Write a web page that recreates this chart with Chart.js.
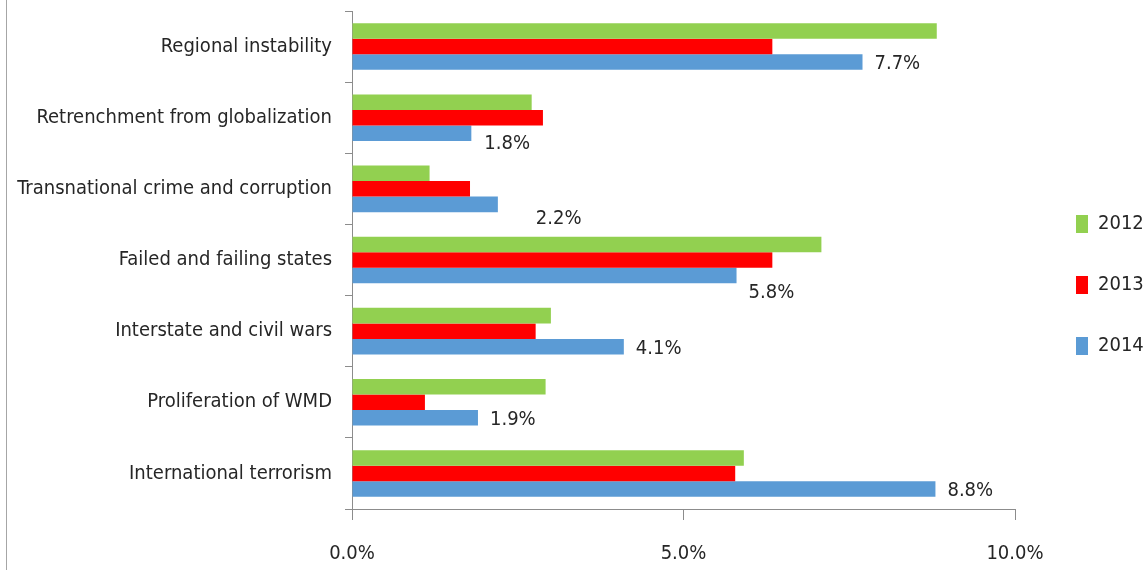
<!DOCTYPE html>
<html>
<head>
<meta charset="utf-8">
<script src="https://cdn.jsdelivr.net/npm/chart.js@4/dist/chart.umd.min.js"></script>
<style>
  body { margin: 0; background: #fff; }
  canvas { display: block; }
</style>
</head>
<body>
<canvas id="riskChart" width="1146" height="570"></canvas>
<script>
const categories = [
  'Regional instability',
  'Retrenchment from globalization',
  'Transnational crime and corruption',
  'Failed and failing states',
  'Interstate and civil wars',
  'Proliferation of WMD',
  'International terrorism'
];
const series2012 = [8.82, 2.71, 1.17, 7.08, 3.00, 2.92, 5.91];
const series2013 = [6.34, 2.88, 1.78, 6.34, 2.77, 1.10, 5.78];
const series2014 = [7.7, 1.8, 2.2, 5.8, 4.1, 1.9, 8.8];
const xTicks = [0, 5, 10];

const FONT = "'Liberation Sans Narrow', 'DejaVu Sans Condensed', sans-serif";
const TEXT = '#262626';
const AXIS = '#8c8c8c';

// 2014 value labels, a few were nudged by hand in the original
const labelNudge = { 1: [13, 11], 2: [38, 14], 3: [12, 17] };

const valueLabels = {
  id: 'valueLabels',
  afterDatasetsDraw(chart) {
    const ctx = chart.ctx;
    const meta = chart.getDatasetMeta(2);
    ctx.save();
    ctx.font = '20px ' + FONT;
    ctx.fillStyle = TEXT;
    ctx.textAlign = 'left';
    ctx.textBaseline = 'middle';
    meta.data.forEach((bar, i) => {
      const n = labelNudge[i] || [12, 2];
      ctx.fillText(series2014[i].toFixed(1) + '%', bar.x + n[0], bar.y + n[1]);
    });
    ctx.restore();
  }
};

const pageEdge = {
  id: 'pageEdge',
  beforeDraw(chart) {
    const ctx = chart.ctx;
    ctx.save();
    ctx.strokeStyle = '#a6a6a6';
    ctx.lineWidth = 1;
    ctx.beginPath();
    ctx.moveTo(6.5, 0);
    ctx.lineTo(6.5, chart.height);
    ctx.stroke();
    ctx.restore();
  }
};

// push the legend a bit further right, away from the plot
const legendShift = {
  id: 'legendShift',
  afterLayout(chart) {
    chart.legend.left += 20;
    chart.legend.right += 20;
  }
};

new Chart(document.getElementById('riskChart').getContext('2d'), {
  type: 'bar',
  data: {
    labels: categories,
    datasets: [
      { label: '2012', data: series2012, backgroundColor: '#92d050' },
      { label: '2013', data: series2013, backgroundColor: '#ff0000' },
      { label: '2014', data: series2014, backgroundColor: '#5b9bd5' }
    ]
  },
  options: {
    indexAxis: 'y',
    responsive: false,
    animation: false,
    categoryPercentage: 0.655,
    barPercentage: 1,
    layout: { padding: 0 },
    scales: {
      x: {
        min: 0,
        max: 10,
        afterBuildTicks(scale) {
          scale.ticks = xTicks.map(v => ({ value: v }));
        },
        afterFit(scale) {
          scale.height = 61;
          scale.paddingRight = 131;
        },
        ticks: {
          callback: v => v.toFixed(1) + '%',
          color: TEXT,
          font: { family: FONT, size: 20 },
          padding: 22,
          maxRotation: 0
        },
        grid: { drawOnChartArea: false, tickLength: 11, color: AXIS },
        border: { color: AXIS }
      },
      y: {
        afterFit(scale) {
          scale.width = 352;
          scale.paddingTop = 11;
          scale.paddingBottom = 0;
        },
        ticks: {
          color: TEXT,
          font: { family: FONT, size: 20 },
          padding: 13
        },
        grid: { drawOnChartArea: false, tickLength: 7, color: AXIS, offset: true },
        border: { color: AXIS }
      }
    },
    plugins: {
      legend: {
        position: 'right',
        maxWidth: 113,
        labels: {
          boxWidth: 12,
          boxHeight: 18,
          padding: 41,
          color: TEXT,
          font: { family: FONT, size: 20 }
        }
      },
      tooltip: { enabled: false }
    }
  },
  plugins: [valueLabels, pageEdge, legendShift]
});
</script>
</body>
</html>
